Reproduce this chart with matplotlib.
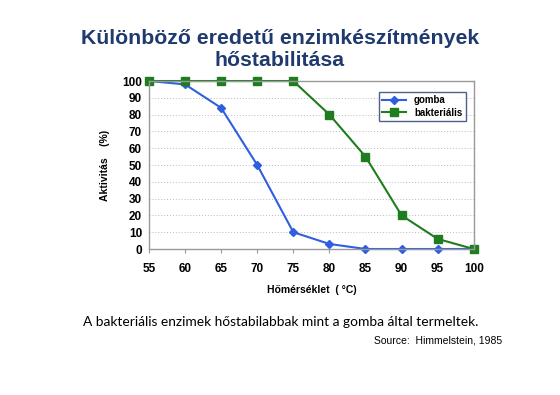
import matplotlib as mpl
mpl.use('Agg')
import matplotlib.pyplot as plt

temps = [55, 60, 65, 70, 75, 80, 85, 90, 95, 100]
gomba = [100, 98, 84, 50, 10, 3, 0, 0, 0, 0]
bakterialis = [100, 100, 100, 100, 100, 80, 55, 20, 6, 0]
yticks = list(range(0, 101, 10))

title = "Különböző eredetű enzimkészítmények\nhőstabilitása"
note = "A bakteriális enzimek hőstabilabbak mint a gomba által termeltek."
source = "Source:  Himmelstein, 1985"

plt.rcParams['font.family'] = ['Liberation Sans', 'DejaVu Sans']

fig = plt.figure(figsize=(5.6, 3.95), dpi=100)
ax = fig.add_axes([0.266, 0.3696, 0.580, 0.4253])

ax.plot(temps, gomba, color='#2f5fe0', marker='D', markersize=4.5, linewidth=1.5, label='gomba')
ax.plot(temps, bakterialis, color='#1f7d1f', marker='s', markersize=6, linewidth=1.5, label='bakteriális')

ax.set_xlim(55, 100)
ax.set_ylim(0, 100)
ax.set_xticks(temps)
ax.set_yticks(yticks)
for lbl in ax.get_xticklabels() + ax.get_yticklabels():
    lbl.set_fontweight('bold')
    lbl.set_fontsize(8.5)
ax.tick_params(axis='x', length=3, pad=7, color='#999999')
ax.tick_params(axis='y', length=0, pad=5)
ax.yaxis.grid(True, linestyle=(0, (1, 2)), color='#bbbbbb', linewidth=0.7)
for s in ax.spines.values():
    s.set_color('#999999')
    s.set_linewidth(1)
for ln in ax.lines:
    ln.set_clip_on(False)

ax.set_ylabel('Aktivitás    (%)', fontsize=7.5, fontweight='bold', labelpad=9)
ax.set_xlabel('Hőmérséklet  ( °C)', fontsize=7.5, fontweight='bold', labelpad=7)

leg = ax.legend(loc='upper right', bbox_to_anchor=(0.99, 0.965), fontsize=7, frameon=True,
                fancybox=False, edgecolor='#1f3a6e', handlelength=2.5, borderpad=0.35,
                labelspacing=0.25)
for t in leg.get_texts():
    t.set_fontweight('bold')
leg.get_frame().set_linewidth(1)

fig.text(0.5, 0.822, title, ha='center', va='bottom', fontsize=15.3, fontweight='bold',
         color='#1f3a6e', linespacing=1.2)
fig.text(0.148, 0.185, note, ha='left', va='center', fontsize=9.9, family=['Lato', 'DejaVu Sans'])
fig.text(0.897, 0.138, source, ha='right', va='center', fontsize=7.5)

plt.savefig('out.png', dpi=100)
